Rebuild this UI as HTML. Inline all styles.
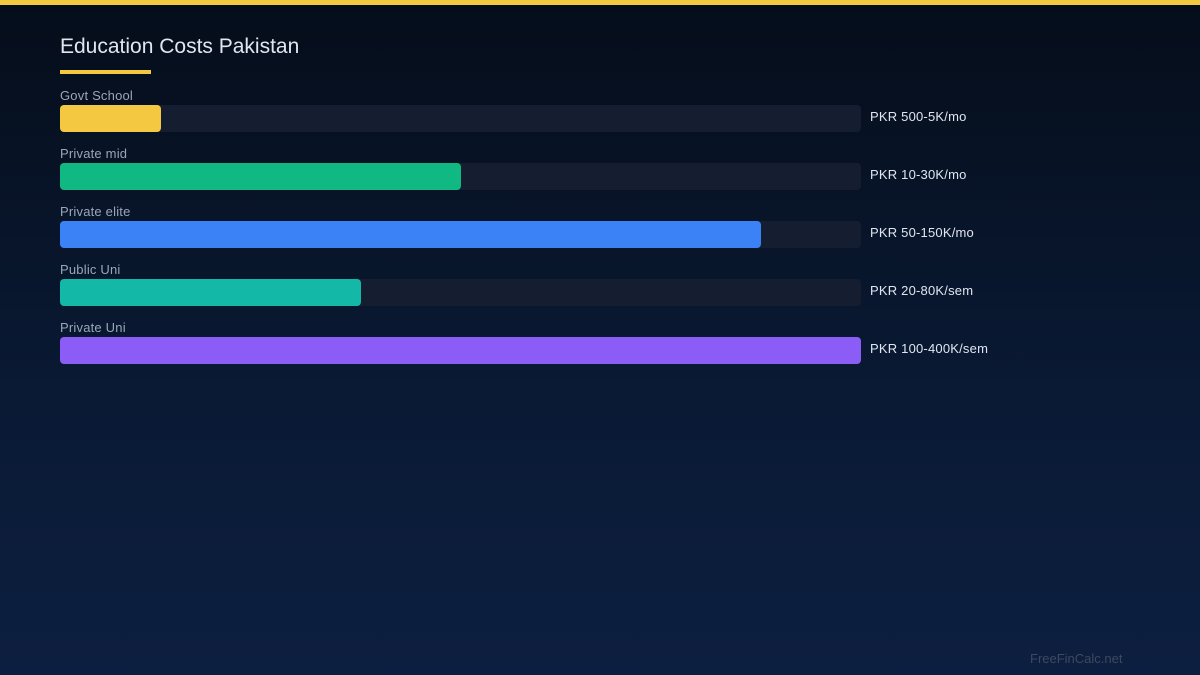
<!DOCTYPE html>
<html><head><meta charset="utf-8"><style>
*{margin:0;padding:0;box-sizing:border-box}
html,body{width:1200px;height:675px;overflow:hidden}
body{background:linear-gradient(180deg,#050d1a 0%,#0a1a35 60%,#0d1f40 100%);font-family:"Liberation Sans",sans-serif;position:relative}
.top{position:absolute;left:0;top:0;width:1200px;height:5px;background:#f5c842}
.title{position:absolute;left:60px;top:35px;font-size:21px;color:#dfe6f0;letter-spacing:0px}
.ul{position:absolute;left:60px;top:70px;width:91px;height:4px;background:#f5c842}
.lab{position:absolute;left:60px;font-size:13px;color:#9aa6b8;letter-spacing:0.2px}
.track{position:absolute;left:60px;width:801px;height:27px;background:#141e30;border-radius:4px}
.fill{position:absolute;left:0;top:0;height:27px;border-radius:4px}
.val{position:absolute;left:870px;font-size:13px;color:#dfe6f0;letter-spacing:0.2px}
.wm{position:absolute;left:1030px;top:651px;font-size:13px;color:#3c4a60}
</style></head><body>
<div class="top"></div>
<div class="title">Education Costs Pakistan</div>
<div class="ul"></div>

<div class="lab" style="top:88px">Govt School</div>
<div class="track" style="top:105px"><div class="fill" style="width:101px;background:#f5c842"></div></div>
<div class="val" style="top:109px">PKR 500-5K/mo</div>

<div class="lab" style="top:146px">Private mid</div>
<div class="track" style="top:163px"><div class="fill" style="width:401px;background:#10b981"></div></div>
<div class="val" style="top:167px">PKR 10-30K/mo</div>

<div class="lab" style="top:204px">Private elite</div>
<div class="track" style="top:221px"><div class="fill" style="width:701px;background:#3b82f6"></div></div>
<div class="val" style="top:225px">PKR 50-150K/mo</div>

<div class="lab" style="top:262px">Public Uni</div>
<div class="track" style="top:279px"><div class="fill" style="width:301px;background:#14b8a6"></div></div>
<div class="val" style="top:283px">PKR 20-80K/sem</div>

<div class="lab" style="top:320px">Private Uni</div>
<div class="track" style="top:337px"><div class="fill" style="width:801px;background:#8b5cf6"></div></div>
<div class="val" style="top:341px">PKR 100-400K/sem</div>

<div class="wm">FreeFinCalc.net</div>
</body></html>
